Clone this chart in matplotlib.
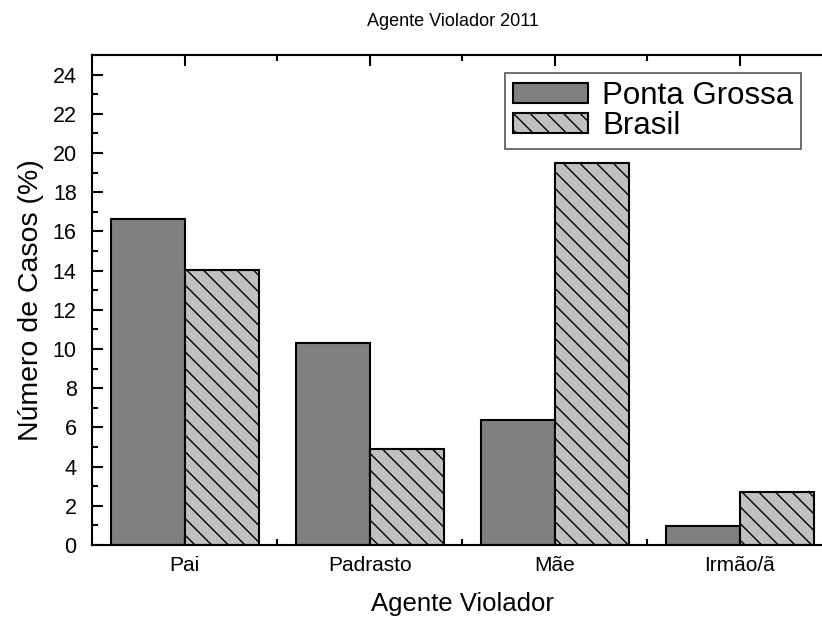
import matplotlib
matplotlib.use("Agg")
from matplotlib import pyplot as plt
from matplotlib.ticker import MultipleLocator, FixedLocator
import numpy as np

plt.rcParams['font.family'] = ['Liberation Sans', 'DejaVu Sans']
plt.rcParams['hatch.linewidth'] = 1.0

categorias = ['Pai', 'Padrasto', 'Mãe', 'Irmão/ã']
ponta_grossa = [16.63, 10.30, 6.40, 0.97]
brasil = [14.05, 4.92, 19.51, 2.71]

x = np.arange(1, len(categorias) + 1)
w = 0.4

fig = plt.figure(figsize=(8.22, 6.17), dpi=100)
ax = fig.add_axes([92/822, 72/617, 740.5/822, 490/617])

ax.bar(x - w/2, ponta_grossa, w, color='#808080', edgecolor='black', linewidth=1.5, label='Ponta Grossa')
ax.bar(x + w/2, brasil, w, color='#c0c0c0', edgecolor='black', linewidth=1.5, hatch='\\\\', label='Brasil')

ax.set_xlim(0.5, 4.5)
ax.set_ylim(0, 25)
ax.set_xticks(x)
ax.set_xticklabels(categorias)
ax.xaxis.set_minor_locator(FixedLocator([1.5, 2.5, 3.5]))
ax.yaxis.set_major_locator(MultipleLocator(2))
ax.yaxis.set_minor_locator(MultipleLocator(1))
ax.set_yticks(np.arange(0, 25, 2))

ax.tick_params(which='both', direction='in', top=True, right=True, width=1.5)
ax.tick_params(which='major', length=8)
ax.tick_params(which='minor', length=4)
ax.tick_params(axis='x', pad=8, labelsize=15)
ax.tick_params(axis='y', pad=11, labelsize=15.5)
for s in ax.spines.values():
    s.set_linewidth(1.5)

ax.set_xlabel('Agente Violador', fontsize=18.5, labelpad=12)
ax.set_ylabel('Número de Casos (%)', fontsize=20.5, labelpad=6)
fig.text(453/822, 1 - 22/617, 'Agente Violador 2011', fontsize=13, ha='center', va='center')

leg = ax.legend(loc='upper right', bbox_to_anchor=(801/822, 1 - 73/617), bbox_transform=fig.transFigure,
                borderaxespad=0, fontsize=22.5, frameon=True, fancybox=False, framealpha=1,
                edgecolor='#555555', handlelength=2.4, handleheight=0.62, handletextpad=0.45,
                labelspacing=0.0, borderpad=0.25)
leg.get_frame().set_linewidth(1.2)

fig.savefig('out.png', dpi=100)
